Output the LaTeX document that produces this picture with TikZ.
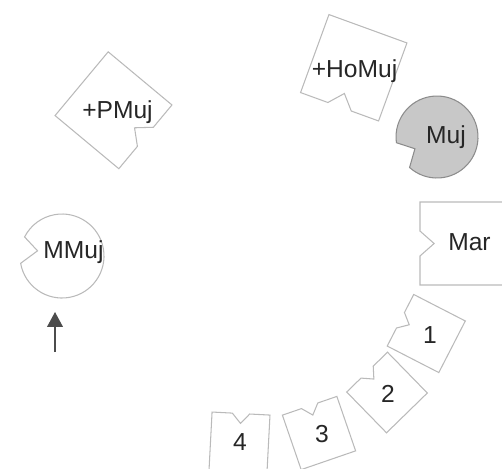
\documentclass[tikz,border=0pt]{standalone}
\usepackage{fontspec}
\setmainfont{Liberation Sans}
\usetikzlibrary{arrows.meta}

\definecolor{mujgray}{RGB}{200,200,200}
\tikzset{
  edge/.style={draw=black!27, line width=0.6pt},
  lbl/.style={inner sep=0pt, anchor=base, text=black!85, font=\fontsize{14}{16}\selectfont},
  piece/.pic={\draw[edge] (-1,-1) -- (1,-1) -- (1,1) -- (0.3,1) -- (0,0.66) -- (-0.3,1) -- (-1,1) -- cycle;}
}

\begin{document}
\begin{tikzpicture}[x=0.02cm,y=0.02cm]
  \useasboundingbox (0,0) rectangle (502,-468);
  \clip (0,0) rectangle (502,-468);
  % notched squares round the ring
  \foreach \cx/\cy/\r/\s in {353.75/-67.75/160/41.5, 113.5/-110.25/-129.8/41.5, 461.5/-243.5/90/41.5,
      426.25/-333.5/62.8/29, 387/-392.5/44.3/28.5, 319/-433/19/28.8, 239.5/-442.5/-3/29}
    {\pic[rotate=\r,scale=\s] at (\cx,\cy) {piece};}
  % the two discs
  \begin{scope}[shift={(437,-137)}]
    \draw[edge,draw=black!45,fill=mujgray] (228:41) arc[start angle=228,end angle=548,radius=41] -- (208:25) -- cycle;
  \end{scope}
  \begin{scope}[shift={(62,-256)}]
    \draw[edge,fill=white] (190:42) arc[start angle=190,end angle=513,radius=42] -- (168:25) -- cycle;
  \end{scope}
  \node[lbl] (homuj) at (354.5,-77) {+HoMuj};
  \node[lbl] (pmuj) at (117.5,-118) {+PMuj};
  \node[lbl] (muj) at (446,-143) {Muj};
  \node[lbl] (mar) at (469.5,-250) {Mar};
  \node[lbl] (mmuj) at (73.5,-258) {MMuj};
  \node[lbl] (one) at (430,-343) {1};
  \node[lbl] (two) at (388,-402) {2};
  \node[lbl] (three) at (322,-442) {3};
  \node[lbl] (four) at (240,-450) {4};
  \coordinate (tail) at (55,-352);
  \coordinate (head) at (55,-312);
  \draw[-{Triangle[length=8.5pt,width=9pt]},black!70,line width=0.7pt] (tail) -- (head);
\end{tikzpicture}
\end{document}
